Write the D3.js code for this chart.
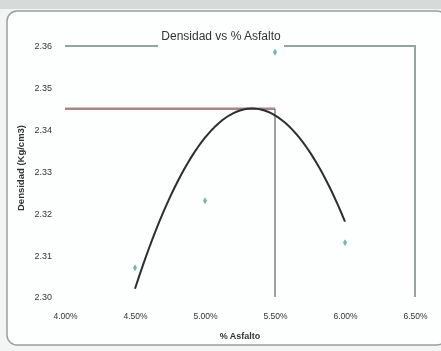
<!DOCTYPE html>
<html>
<head>
<meta charset="utf-8">
<script src="https://cdn.jsdelivr.net/npm/d3@7"></script>
<style>
  body { margin: 0; background: #f3f5f4; }
  svg { display: block; filter: blur(0.6px); }
  text { font-family: "Liberation Sans Narrow", "Liberation Sans", Arial, sans-serif; fill: #333; }
</style>
</head>
<body>
<script>
// data
var asfalto = [4.5, 5.0, 5.5, 6.0];
var densidad = [2.307, 2.323, 2.3585, 2.313];
var xTicks = [4.0, 4.5, 5.0, 5.5, 6.0, 6.5];
var yTicks = [2.30, 2.31, 2.32, 2.33, 2.34, 2.35, 2.36];
var optimo = [5.5, 2.345];   // reference lines (optimum)

var svgWidth = 441, svgHeight = 351;
var svg = d3.select("body").append("svg")
            .attr("width", svgWidth)
            .attr("height", svgHeight);

// chart frame
svg.append("rect").attr("x", 0).attr("y", 0).attr("width", svgWidth).attr("height", 9).attr("fill", "#d6dbd9");
svg.append("rect")
   .attr("x", 7).attr("y", 11).attr("width", 440).attr("height", 334)
   .attr("rx", 10)
   .attr("fill", "#fdfefe")
   .attr("stroke", "#9a9f9d").attr("stroke-width", 1.5);

var x = d3.scaleLinear().domain([4.0, 6.5]).range([65, 415]);
var y = d3.scaleLinear().domain([2.30, 2.36]).range([297, 46]);

// plot border (top + right)
svg.append("path")
   .attr("d", "M" + x(4.0) + "," + y(2.36) + "H" + x(6.5) + "V" + y(2.30))
   .attr("fill", "none").attr("stroke", "#93a5a1").attr("stroke-width", 2);

// axes (labels only)
var yAxis = svg.append("g")
               .attr("transform", "translate(" + x(4.0) + ",0)")
               .call(d3.axisLeft(y).tickValues(yTicks).tickSize(0).tickPadding(13).tickFormat(d3.format(".2f")));
yAxis.select(".domain").remove();
yAxis.selectAll("text").style("font-size", "9px").style("font-family", "Liberation Sans Narrow, sans-serif").attr("fill", "#333");

var xAxis = svg.append("g")
               .attr("transform", "translate(0," + (y(2.30) + 13) + ")")
               .call(d3.axisBottom(x).tickValues(xTicks).tickSize(0).tickFormat(function(d) { return d.toFixed(2) + "%"; }));
xAxis.select(".domain").remove();
xAxis.selectAll("text").style("font-size", "8.5px").style("font-family", "Liberation Sans Narrow, sans-serif").attr("fill", "#333");

// titles (title box hides the border behind it)
svg.append("rect")
   .attr("x", 158).attr("y", 24).attr("width", 126).attr("height", 26)
   .attr("fill", "#fdfefe");
svg.append("text")
   .attr("x", 221).attr("y", 40)
   .attr("text-anchor", "middle")
   .style("font-size", "12px")
   .attr("fill", "#444")
   .text("Densidad vs % Asfalto");
svg.append("text")
   .attr("x", 240).attr("y", 339)
   .attr("text-anchor", "middle")
   .style("font-size", "9px").style("font-weight", "bold")
   .text("% Asfalto");
svg.append("text")
   .attr("transform", "translate(24,168) rotate(-90)")
   .attr("text-anchor", "middle")
   .style("font-size", "9.5px").style("font-weight", "bold")
   .text("Densidad (Kg/cm3)");

// reference lines at the optimum
svg.append("line")
   .attr("x1", x(4.0)).attr("x2", x(optimo[0]))
   .attr("y1", y(optimo[1])).attr("y2", y(optimo[1]))
   .attr("stroke", "#a98585").attr("stroke-width", 2.5);
svg.append("line")
   .attr("x1", x(optimo[0])).attr("x2", x(optimo[0]))
   .attr("y1", y(optimo[1])).attr("y2", y(2.30))
   .attr("stroke", "#6f6f6f").attr("stroke-width", 1.3);

// polynomial trendline (order 2, least squares)
var mx = d3.mean(asfalto);
var t = asfalto.map(function(v) { return v - mx; });
var mt2 = d3.mean(t, function(v) { return v * v; });
var q = t.map(function(v) { return v * v - mt2; });
var my = d3.mean(densidad);
var b = d3.sum(t, function(v, i) { return v * densidad[i]; }) / d3.sum(t, function(v) { return v * v; });
var c = d3.sum(q, function(v, i) { return v * densidad[i]; }) / d3.sum(q, function(v) { return v * v; });
function fit(xv) { var tv = xv - mx; return my + b * tv + c * (tv * tv - mt2); }

var xs = d3.range(0, 61).map(function(i) { return 4.5 + i * 1.5 / 60; });
svg.append("path")
   .datum(xs)
   .attr("d", d3.line().x(function(d) { return x(d); }).y(function(d) { return y(fit(d)); }))
   .attr("fill", "none").attr("stroke", "#2e2e2e").attr("stroke-width", 2);

// data points
svg.selectAll(".pt")
   .data(asfalto)
   .enter()
   .append("path")
   .attr("class", "pt")
   .attr("transform", function(d, i) { return "translate(" + x(d) + "," + y(densidad[i]) + ")"; })
   .attr("d", d3.symbol().type(d3.symbolDiamond).size(14))
   .attr("fill", "#6fb8a8");
</script>
</body>
</html>
